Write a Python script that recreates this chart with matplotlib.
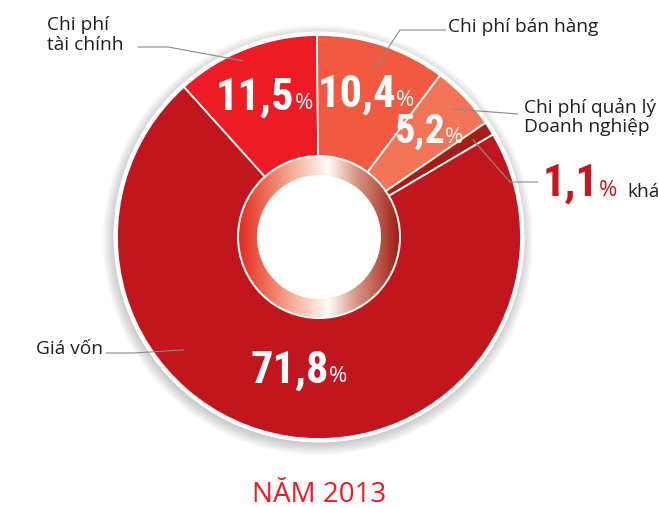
import matplotlib
matplotlib.use('Agg')
import matplotlib.pyplot as plt
import numpy as np
from matplotlib import font_manager
from matplotlib.patches import Circle
from matplotlib.colors import LinearSegmentedColormap
from matplotlib.offsetbox import TextArea, HPacker, AnnotationBbox

# ---------------- data ----------------
categories = ['Chi phí tài chính', 'Chi phí bán hàng', 'Chi phí quản lý Doanh nghiệp', 'khác', 'Giá vốn']
values = [11.5, 10.4, 5.2, 1.1, 71.8]
value_labels = ['11,5', '10,4', '5,2', '1,1', '71,8']
outer_labels = ['Chi phí\ntài chính', 'Chi phí bán hàng', 'Chi phí quản lý\nDoanh nghiệp', 'khác', 'Giá vốn']
title = 'NĂM 2013'
colors = ['#ED1C24', '#F15A40', '#F37457', '#A51E16', '#C1161E']

# ---------------- fonts ----------------
names = {f.name for f in font_manager.fontManager.ttflist}
def pick(cands, default):
    for c in cands:
        if c in names:
            return c
    return default
NUMFONT = pick(['Roboto Condensed', 'Liberation Sans Narrow', 'Open Sans Condensed', 'DejaVu Sans Condensed'], 'Liberation Sans')
TXTFONT = pick(['Open Sans', 'Noto Sans', 'Lato'], 'DejaVu Sans')

W, H = 658, 508
fig = plt.figure(figsize=(W / 100, H / 100), dpi=100)
ax = fig.add_axes([0, 0, 1, 1])

def Y(y):
    return H - y

cx, cy = 319, Y(237)
R = 202
R_ring = 80
R_hole = 62

# shadow + white border
for r in np.linspace(203, 215, 12):
    ax.add_patch(Circle((cx - 1, cy - 3), r, color='#606060', alpha=0.03, lw=0, zorder=0))
ax.add_patch(Circle((cx, cy), R + 3.5, color='white', lw=0, zorder=1))

wedges, _ = ax.pie(values, colors=colors, startangle=132, counterclock=False,
                   radius=R, center=(cx, cy),
                   wedgeprops=dict(width=R - 70, edgecolor='white', linewidth=1.3))
for w in wedges:
    w.set_zorder(2)

# inner gradient ring
ax.add_patch(Circle((cx, cy), R_ring + 2, color='white', lw=0, zorder=3))
cmap = LinearSegmentedColormap.from_list('ring', [
    (0.0, (0.90, 0.17, 0.14)),
    (0.18, (0.93, 0.45, 0.36)),
    (0.40, (0.97, 0.78, 0.70)),
    (0.56, (1.0, 0.98, 0.97)),
    (0.72, (0.86, 0.62, 0.55)),
    (1.0, (0.62, 0.12, 0.08)),
])
grad = np.linspace(0, 1, 256).reshape(1, -1)
im = ax.imshow(grad, cmap=cmap, extent=[cx - R_ring, cx + R_ring, cy - R_ring, cy + R_ring],
               aspect='auto', zorder=4, interpolation='bilinear')
clip = Circle((cx, cy), R_ring, transform=ax.transData)
im.set_clip_path(clip)
ax.add_patch(Circle((cx, cy), R_hole, color='white', lw=0, zorder=5))

# value labels inside wedges
def mid_angle(w):
    return np.deg2rad((w.theta1 + w.theta2) / 2)

def value_box(num, color, numsize, pctsize):
    t1 = TextArea(num, textprops=dict(fontsize=numsize, fontweight='bold', color=color, family=NUMFONT))
    t2 = TextArea('%', textprops=dict(fontsize=pctsize, fontweight='normal', color=color, family=TXTFONT))
    return HPacker(children=[t1, t2], align='baseline', pad=0, sep=0)

inner_r = [150, 150, 152, None, 135]
for i, w in enumerate(wedges):
    if inner_r[i] is None:
        continue
    a = mid_angle(w)
    x = cx + inner_r[i] * np.cos(a)
    y = cy + inner_r[i] * np.sin(a)
    size = 32 if i != 2 else 29
    ab = AnnotationBbox(value_box(value_labels[i], 'white', size, 16), (x, y),
                        frameon=False, box_alignment=(0.5, 0.5), zorder=6)
    ax.add_artist(ab)

# outer labels with leader lines
lc = '#8a8a8a'
lab_fs = 13.8
tc = '#231f20'

def leader(i, frac, r, pts):
    w = wedges[i]
    a = np.deg2rad(w.theta2 - frac * (w.theta2 - w.theta1))
    ex, ey = cx + r * np.cos(a), cy + r * np.sin(a)
    xs = [p[0] for p in pts] + [ex]
    ys = [Y(p[1]) for p in pts] + [ey]
    ax.plot(xs, ys, color=lc, lw=0.8, zorder=7, solid_capstyle='butt')

# Chi phí tài chính
ax.text(47, Y(35), outer_labels[0], ha='left', va='center', fontsize=lab_fs,
        family=TXTFONT, color=tc, linespacing=1.2, zorder=8)
leader(0, 0.45, 192, [(138, 47), (168, 47)])

# Chi phí bán hàng
ax.text(448, Y(27), outer_labels[1], ha='left', va='center', fontsize=lab_fs,
        family=TXTFONT, color=tc, zorder=8)
leader(1, 0.5, 176, [(446, 30), (400, 30)])

# Chi phí quản lý Doanh nghiệp
ax.text(524, Y(117), outer_labels[2], ha='left', va='center', fontsize=lab_fs,
        family=TXTFONT, color=tc, linespacing=1.1, zorder=8)
leader(2, 0.5, 185, [(518, 114)])

# khác 1,1%
ab = AnnotationBbox(value_box(value_labels[3], '#C8161E', 32, 16), (543, Y(184)),
                    frameon=False, box_alignment=(0.0, 0.5), zorder=8)
ax.add_artist(ab)
ax.text(627, Y(197), outer_labels[3], ha='left', va='baseline', fontsize=lab_fs,
        family=TXTFONT, color=tc, zorder=8)
leader(3, 0.5, 182, [(538, 182), (510, 182)])

# Giá vốn
ax.text(103, Y(349), outer_labels[4], ha='right', va='center', fontsize=lab_fs,
        family=TXTFONT, color=tc, zorder=8)
leader(4, 0.66, 176, [(106, 353), (134, 353)])

# title
ax.text(cx, Y(495), title, ha='center', va='center', fontsize=20,
        family=TXTFONT, color='#ED1C24', zorder=8)

ax.set_xlim(0, W)
ax.set_ylim(0, H)
ax.set_aspect('equal')
ax.axis('off')
fig.savefig('out.png', dpi=100, facecolor='white')
